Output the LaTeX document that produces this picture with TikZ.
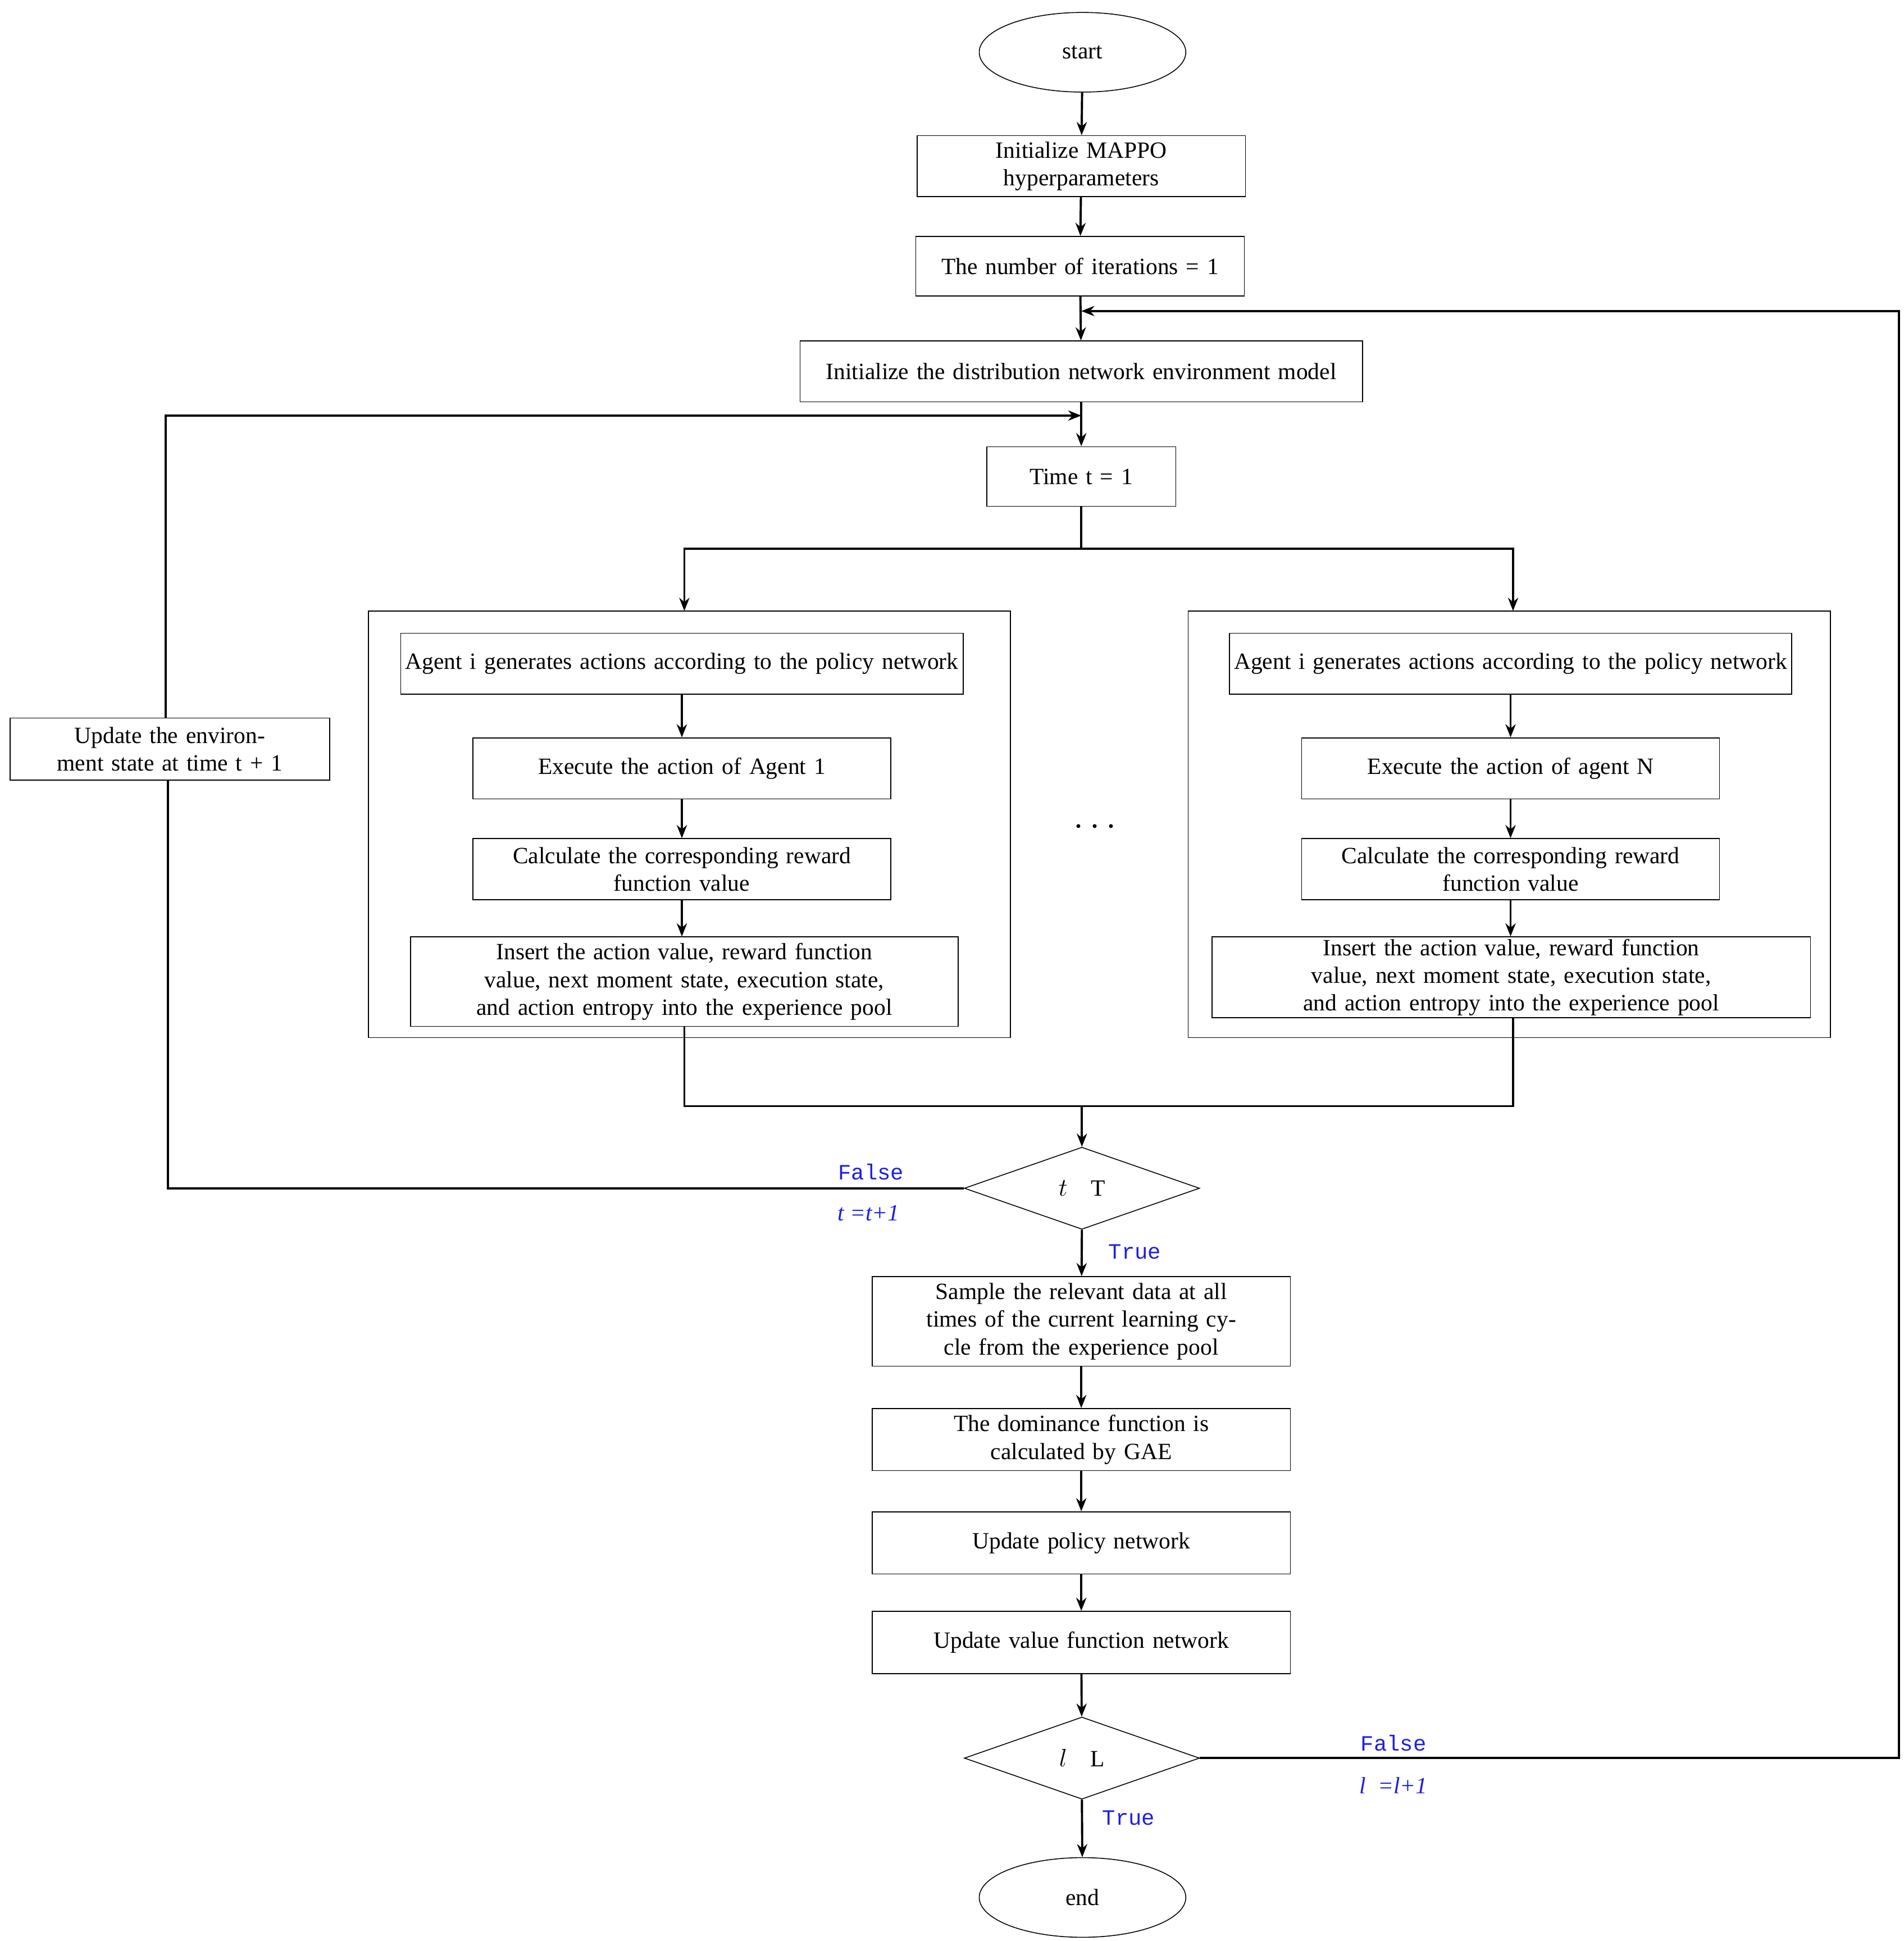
\documentclass[tikz,border=0pt]{standalone}
\usepackage{fontspec}
\setmainfont{Liberation Serif}
\newfontfamily\monofont{Liberation Mono}
\usetikzlibrary{shapes.geometric,arrows.meta}
\definecolor{lblue}{RGB}{30,30,230}
\begin{document}
\begin{tikzpicture}[x=0.03cm,y=-0.03cm,
  every node/.style={font=\fontsize{16}{19}\selectfont},
  box/.style={draw,line width=0.6pt,align=center,inner sep=1pt},
  term/.style={draw,ellipse,line width=0.6pt,minimum width=166*0.03cm,minimum height=64*0.03cm},
  dec/.style={draw,diamond,aspect=2.9,line width=0.6pt,minimum width=189*0.03cm,minimum height=66*0.03cm,inner sep=0pt},
  flow/.style={line width=1.5pt,-{Stealth[length=9pt,width=7pt]}},
  line/.style={line width=1.5pt},
  lab/.style={text=lblue,font=\monofont\fontsize{15}{18}\selectfont}]
\useasboundingbox (0,0) rectangle (1530,1560);
\def\bx#1#2#3#4#5{\node[box,minimum width=#4*0.03cm,minimum height=#5*0.03cm,text width=#4*0.03cm-6pt] (#1) at #2 {#3};}
\node[term] (start) at (870,42) {start};
\bx{init}{(869,133.5)}{Initialize MAPPO\\hyperparameters}{264}{49}
\bx{iter}{(868,214)}{The number of iterations = 1}{264}{48}
\bx{env}{(869,298.5)}{Initialize the distribution network environment model}{452}{49}
\bx{time}{(869,383)}{Time t = 1}{152}{48}
\draw[line width=0.6pt] (296,491) rectangle (812,834);
\draw[line width=0.6pt] (955,491) rectangle (1471,834);
\bx{la}{(548,533.5)}{Agent i generates actions according to the policy network}{452}{49}
\bx{le}{(548,617.5)}{Execute the action of Agent 1}{336}{49}
\bx{lc}{(548,698.5)}{Calculate the corresponding reward\\function value}{336}{49}
\bx{li}{(550,789)}{Insert the action value, reward function value, next moment state, execution state, and action entropy into the experience pool}{440}{72}
\bx{ra}{(1214,533.5)}{Agent i generates actions according to the policy network}{452}{49}
\bx{re}{(1214,617.5)}{Execute the action of agent N}{336}{49}
\bx{rc}{(1214,698.5)}{Calculate the corresponding reward\\function value}{336}{49}
\bx{ri}{(1214.5,785.5)}{Insert the action value, reward function value, next moment state, execution state, and action entropy into the experience pool}{481}{65}
\node[font=\fontsize{30}{30}\selectfont] (dots) at (880,665) {$\cdots$};
\node[dec] (d1) at (869.5,955) {$t$\quad T};
\bx{upd}{(136.5,602)}{Update the environment state at time t + 1}{257}{50}
\bx{samp}{(869,1062)}{Sample the relevant data at all times of the current learning cycle from the experience pool}{336}{72}
\bx{dom}{(869,1157)}{The dominance function is\\calculated by GAE}{336}{50}
\bx{pol}{(869,1240)}{Update policy network}{336}{50}
\bx{val}{(869,1320)}{Update value function network}{336}{50}
\node[dec] (d2) at (869.5,1413) {$l$\quad L};
\node[term] (end) at (870,1525) {end};
% main chain
\draw[flow] (start) -- (init);
\draw[flow] (init) -- (iter);
\draw[flow] (iter) -- (env);
\draw[flow] (env) -- (time);
\coordinate (lt) at (550,491); \coordinate (rt) at (1216,491);
\draw[flow] (time.south) |- (550,441) -- (lt);
\draw[flow] (time.south) |- (1216,441) -- (rt);
\draw[flow] (la) -- (le); \draw[flow] (le) -- (lc); \draw[flow] (lc) -- (li.north -| lc);
\draw[flow] (ra) -- (re); \draw[flow] (re) -- (rc); \draw[flow] (rc) -- (ri.north -| rc);
\draw[line] (li.south) -- (550,889) -- (1216,889) -- (1216,834);
\draw[line] (1216,834) -- (ri.south -| 1216,0);
\draw[flow] (869.5,889) -- (d1.north);
% false loop t
\coordinate (fa) at (135,955);
\draw[line] (d1.west) -- (fa) -- (upd.south -| fa);
\coordinate (fb) at (133,334);
\draw[flow] (upd.north -| fb) -- (fb) -- (869,334);
\node[lab] at (700,942) {False};
\node[lab,font=\fontsize{16}{19}\selectfont\itshape] at (698,975) {t =t+1};
\draw[flow] (d1.south) -- (samp);
\node[lab] at (912,1006) {True};
\draw[flow] (samp) -- (dom); \draw[flow] (dom) -- (pol); \draw[flow] (pol) -- (val);
\draw[flow] (val) -- (d2);
% false loop l
\coordinate (fc) at (1526,1413); \coordinate (fd) at (1526,250);
\draw[flow] (d2.east) -- (fc) -- (fd) -- (869,250);
\node[lab] at (1120,1401) {False};
\node[lab,font=\fontsize{16}{19}\selectfont\itshape] at (1120,1435) {l\enspace=l+1};
\draw[flow] (d2.south) -- (end);
\node[lab] at (907,1461) {True};
\end{tikzpicture}
\end{document}
